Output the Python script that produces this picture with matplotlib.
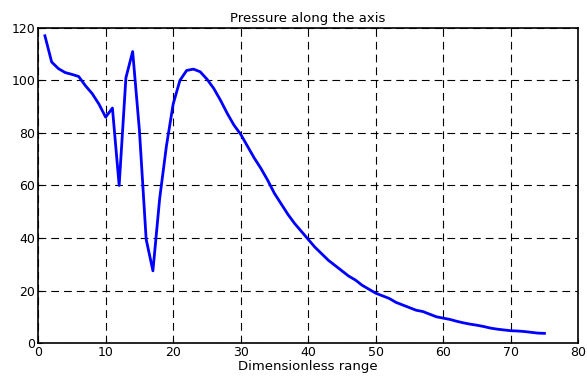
import numpy as np
import matplotlib.pyplot as plt

plt.rcParams['font.family'] = ['DejaVu Sans']

# dimensionless range and pressure values
rng = np.arange(1, 76)
pressure = [117, 107, 104.5, 103, 102.3, 101.5, 98, 95, 91, 86,
            89.5, 60, 101, 111, 81, 39.5, 27.5, 55, 75, 91,
            100, 103.8, 104.3, 103.3, 100.5, 97, 92.5, 87.5, 83, 79.5,
            75, 70.5, 66.5, 62, 57, 53, 49, 45.5, 42.5, 39.5,
            36.5, 34, 31.5, 29.5, 27.5, 25.5, 24, 22, 20.5, 19,
            18, 17, 15.5, 14.5, 13.5, 12.5, 12, 11, 10, 9.5,
            9, 8.3, 7.7, 7.2, 6.8, 6.3, 5.7, 5.3, 5, 4.7,
            4.6, 4.4, 4.1, 3.8, 3.7]

fig = plt.figure(figsize=(5.87, 3.77), dpi=100)
ax = fig.add_axes([0.065, 0.09, 0.92, 0.836])
ax.plot(rng, pressure, color='#0000ff', linewidth=2)

ax.set_xlim(0, 80)
ax.set_ylim(0, 120)
ax.set_xticks(range(0, 81, 10))
ax.set_yticks(range(0, 121, 20))
ax.grid(True, color='black', linestyle=(0, (7, 4.5)), linewidth=0.8)
ax.tick_params(direction='in', labelsize=9, length=3, pad=2)
for s in ax.spines.values():
    s.set_linewidth(1.2)

ax.set_title('Pressure along the axis', fontsize=9.5, pad=4)
ax.set_xlabel('Dimensionless range', fontsize=9.5, labelpad=1)

fig.savefig('out.png', dpi=100)
